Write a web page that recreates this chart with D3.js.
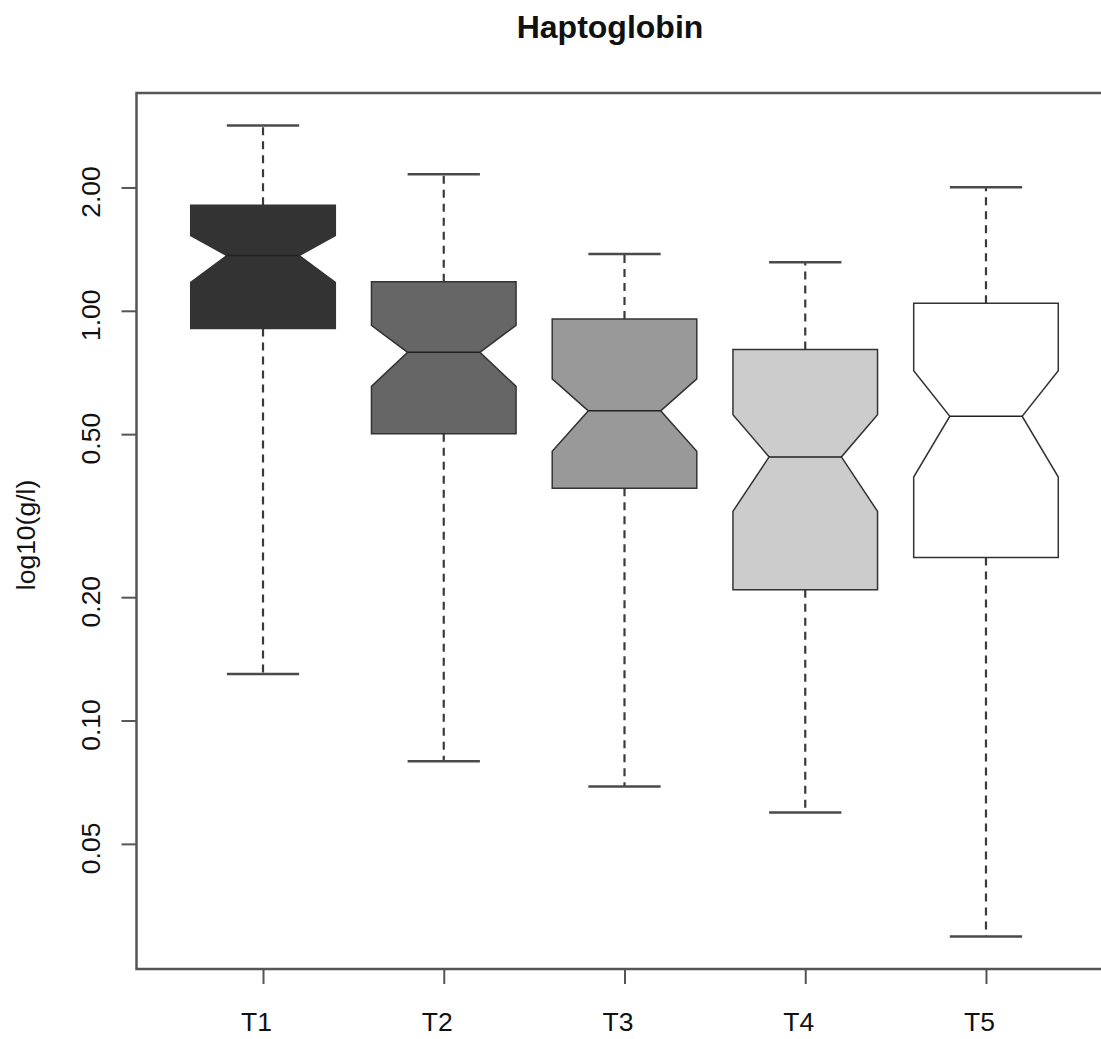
<!DOCTYPE html>
<html>
<head>
<meta charset="utf-8">
<script src="https://cdn.jsdelivr.net/npm/d3@7"></script>
<style>
  html, body { margin: 0; padding: 0; background: #fff; }
  svg { display: block; font-family: "Liberation Sans", Arial, sans-serif; }
</style>
</head>
<body>
<div id="chart"></div>
<script>
// values (g/l, plotted on a log axis)
const categories = ["T1", "T2", "T3", "T4", "T5"];
const whiskerHigh = [2.834, 2.154, 1.377, 1.314, 2.002];
const q3 = [1.81, 1.178, 0.955, 0.805, 1.043];
const notchHigh = [1.526, 0.922, 0.682, 0.558, 0.714];
const median = [1.364, 0.792, 0.57, 0.44, 0.553];
const notchLow = [1.174, 0.654, 0.454, 0.324, 0.393];
const q1 = [0.905, 0.501, 0.369, 0.2085, 0.25];
const whiskerLow = [0.1298, 0.0796, 0.069, 0.0596, 0.0297];
const yTicks = [0.05, 0.1, 0.2, 0.5, 1, 2];

const fills = ["#333333", "#666666", "#999999", "#cccccc", "#ffffff"];

const width = 1101;
const height = 1039;
const plot = { left: 136.5, right: 1112.5, top: 93, bottom: 969 };
const fontAxis = 26.5;

const svg = d3
  .select("#chart")
  .append("svg")
  .attr("width", width)
  .attr("height", height)
  .attr("viewBox", `0 0 ${width} ${height}`);

svg.append("rect").attr("width", width).attr("height", height).attr("fill", "#fff");

// R-style ranges: xlim = 0.5..n+0.5, both axes padded by 4%
const n = categories.length;
const x = d3
  .scaleLinear()
  .domain([0.5 - 0.2, n + 0.5 + 0.2])
  .range([plot.left, plot.right]);

const lo = Math.log10(d3.min(whiskerLow));
const hi = Math.log10(d3.max(whiskerHigh));
const pad = (hi - lo) * 0.04;
const y = d3
  .scaleLog()
  .domain([Math.pow(10, lo - pad), Math.pow(10, hi + pad)])
  .range([plot.bottom, plot.top]);

const boxes = categories.map((c, i) => ({
  name: c,
  pos: i + 1,
  fill: fills[i],
  wHi: whiskerHigh[i],
  q3: q3[i],
  nHi: notchHigh[i],
  med: median[i],
  nLo: notchLow[i],
  q1: q1[i],
  wLo: whiskerLow[i],
}));

const boxHalf = 0.4;
const notchHalf = 0.2;
const capHalf = 0.2;

const g = svg.append("g").attr("class", "boxes");

boxes.forEach((b) => {
  const grp = g.append("g");

  // whiskers (dashed), drawn from the box outwards
  [[b.q3, b.wHi], [b.q1, b.wLo]].forEach(([from, to]) => {
    grp
      .append("line")
      .attr("x1", x(b.pos))
      .attr("x2", x(b.pos))
      .attr("y1", y(from))
      .attr("y2", y(to))
      .attr("stroke", "#3a3a3a")
      .attr("stroke-width", 2.2)
      .attr("stroke-dasharray", "8 6");

    grp
      .append("line")
      .attr("x1", x(b.pos - capHalf))
      .attr("x2", x(b.pos + capHalf))
      .attr("y1", y(to))
      .attr("y2", y(to))
      .attr("stroke", "#4a4a4a")
      .attr("stroke-width", 2.5);
  });

  // notched box
  const L = x(b.pos - boxHalf);
  const R = x(b.pos + boxHalf);
  const nl = x(b.pos - notchHalf);
  const nr = x(b.pos + notchHalf);
  const pts = [
    [L, y(b.q1)],
    [L, y(b.nLo)],
    [nl, y(b.med)],
    [L, y(b.nHi)],
    [L, y(b.q3)],
    [R, y(b.q3)],
    [R, y(b.nHi)],
    [nr, y(b.med)],
    [R, y(b.nLo)],
    [R, y(b.q1)],
  ];
  grp
    .append("path")
    .attr("d", d3.line()(pts) + "Z")
    .attr("fill", b.fill)
    .attr("stroke", "#333")
    .attr("stroke-width", 1.5)
    .attr("stroke-linejoin", "miter");

  grp
    .append("line")
    .attr("x1", nl)
    .attr("x2", nr)
    .attr("y1", y(b.med))
    .attr("y2", y(b.med))
    .attr("stroke", "#222")
    .attr("stroke-width", 1.5);
});

// frame
svg
  .append("rect")
  .attr("x", plot.left)
  .attr("y", plot.top)
  .attr("width", plot.right - plot.left)
  .attr("height", plot.bottom - plot.top)
  .attr("fill", "none")
  .attr("stroke", "#555")
  .attr("stroke-width", 2.5);

// y axis
const yAxis = svg
  .append("g")
  .attr("transform", `translate(${plot.left},0)`)
  .call(d3.axisLeft(y).tickValues(yTicks).tickFormat(d3.format(".2f")).tickSize(15));

yAxis.select(".domain").remove();
yAxis.selectAll(".tick line").attr("stroke", "#555").attr("stroke-width", 2);
yAxis
  .selectAll(".tick text")
  .attr("x", null)
  .attr("dy", null)
  .attr("text-anchor", "middle")
  .attr("transform", "translate(-36.5,4) rotate(-90)")
  .attr("fill", "#111")
  .style("font-size", `${fontAxis}px`);

// x axis
const xAxis = svg
  .append("g")
  .attr("transform", `translate(0,${plot.bottom})`)
  .call(
    d3
      .axisBottom(x)
      .tickValues(boxes.map((b) => b.pos))
      .tickFormat((d) => categories[d - 1])
      .tickSize(15)
  );

xAxis.select(".domain").remove();
xAxis.selectAll(".tick line").attr("stroke", "#555").attr("stroke-width", 2);
xAxis
  .selectAll(".tick text")
  .attr("y", 62)
  .attr("dy", null)
  .attr("dx", -7)
  .attr("fill", "#111")
  .style("font-size", `${fontAxis}px`);

// axis title and main title
svg
  .append("text")
  .attr("transform", "translate(35,535) rotate(-90)")
  .attr("text-anchor", "middle")
  .attr("fill", "#111")
  .style("font-size", `${fontAxis}px`)
  .text("log10(g/l)");

svg
  .append("text")
  .attr("x", 610)
  .attr("y", 38)
  .attr("text-anchor", "middle")
  .attr("fill", "#111")
  .style("font-size", "32px")
  .style("font-weight", "bold")
  .text("Haptoglobin");
</script>
</body>
</html>
